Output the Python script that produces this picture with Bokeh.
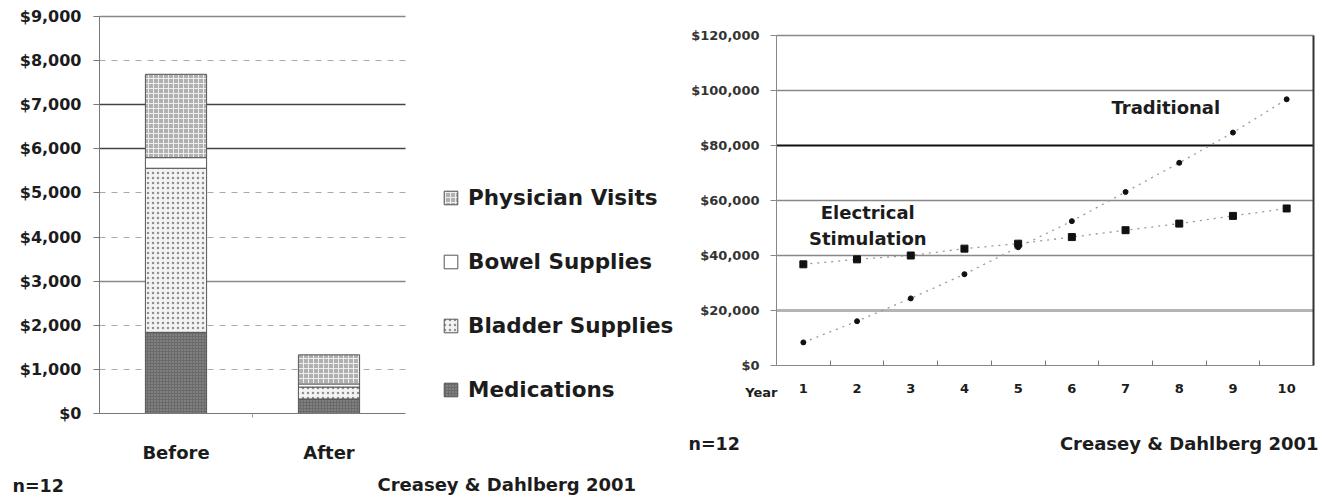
from bokeh.plotting import figure
from bokeh.models import (Range1d, NumeralTickFormatter, FixedTicker, Grid, LinearAxis,
                          Label, Legend, LegendItem, ColumnDataSource)
from bokeh.embed import file_html
from bokeh.resources import INLINE

FONT = "DejaVu Sans"
INK = "#1c1c1c"
W, H = 1323, 499

# ---------------- data: left chart (stacked costs) ----------------
groups = ["Before", "After"]
stack_names = ["Medications", "Bladder Supplies", "Bowel Supplies", "Physician Visits"]
medications = [1840, 330]
bladder_supplies = [3720, 270]
bowel_supplies = [240, 70]
physician_visits = [1890, 660]
left_ticks = list(range(0, 9001, 1000))

# ---------------- data: right chart (cumulative cost by year) ----------------
years = list(range(1, 11))
electrical = [36800, 38600, 40000, 42500, 44300, 46700, 49200, 51600, 54400, 57100]
traditional = [8400, 16100, 24400, 33200, 43000, 52500, 63100, 73700, 84700, 96800]
right_ticks = list(range(0, 120001, 20000))


def fit_range(px_lo, px_hi, v_lo, v_hi, total):
    """Range over the whole canvas such that v_lo..v_hi lands on px_lo..px_hi."""
    k = (v_hi - v_lo) / (px_hi - px_lo)
    return Range1d(v_lo - px_lo * k, v_hi + (total - px_hi) * k)


# one canvas-sized frame; each chart gets its own ranges and axes
p = figure(width=W, height=H, x_range=Range1d(0, W), y_range=Range1d(H, 0),
           x_axis_location=None, y_axis_location=None, min_border=0,
           output_backend="svg", toolbar_location=None)
p.title.visible = False
p.grid.visible = False
p.outline_line_color = None
p.background_fill_color = "white"
p.border_fill_color = "white"

p.extra_x_ranges = {"lx": fit_range(99, 405, 0, len(groups), W),
                    "rx": fit_range(776, 1313, 0.5, 10.5, W)}
p.extra_y_ranges = {"ly": fit_range(H - 413, H - 16, 0, 9000, H),
                    "ry": fit_range(H - 365, H - 35, 0, 120000, H)}


def style_labels(ax, size, color=INK):
    ax.major_label_text_font = FONT
    ax.major_label_text_font_style = "bold"
    ax.major_label_text_font_size = size
    ax.major_label_text_color = color


# ================= LEFT CHART =================
group_x = [i + 0.5 for i in range(len(groups))]
src = ColumnDataSource(dict(x=group_x, med=medications, bla=bladder_supplies,
                            bow=bowel_supplies, phy=physician_visits))

for ticks, color, width, dash in [([6000, 7000], "#444", 1.5, "solid"),
                                  ([3000, 9000], "#888", 1.3, "solid"),
                                  ([1000, 2000, 4000, 5000, 8000], "#aaa", 1, "6 6")]:
    p.add_layout(Grid(dimension=1, ticker=FixedTicker(ticks=ticks), x_range_name="lx",
                      y_range_name="ly", cross_bounds=(0, len(groups)),
                      grid_line_color=color, grid_line_width=width, grid_line_dash=dash))

rs = p.vbar_stack(["med", "bla", "bow", "phy"], x="x", width=0.4, source=src,
                  x_range_name="lx", y_range_name="ly",
                  fill_color=["#6a6a6a", "#f3f3f3", "#ffffff", "#b0b0b0"],
                  hatch_pattern=["dot", "dot", " ", "cross"],
                  hatch_color=["#a0a0a0", "#909090", "#ffffff", "#eeeeee"],
                  hatch_scale=[3, 5, 6, 5],
                  hatch_weight=[1, 0.8, 1, 1],
                  line_color="#555", line_width=1)

items = [LegendItem(label=name, renderers=[r]) for name, r in zip(stack_names, rs)]
items.reverse()
legend = Legend(items=items, location=(442, H - 402), orientation="vertical",
                label_text_font=FONT, label_text_font_style="bold", label_text_font_size="21.5px",
                label_text_color=INK, glyph_width=17, glyph_height=17, label_height=24,
                spacing=39, padding=0, margin=0, label_standoff=9,
                border_line_color=None, background_fill_alpha=0)
p.add_layout(legend)

ly_axis = LinearAxis(x_range_name="lx", y_range_name="ly", fixed_location=0,
                     bounds=(0, 9000), ticker=FixedTicker(ticks=left_ticks),
                     formatter=NumeralTickFormatter(format="$0,0"))
style_labels(ly_axis, "16px")
ly_axis.axis_line_color = "#777"
ly_axis.major_tick_line_color = "#777"
ly_axis.major_tick_out = 6
ly_axis.major_tick_in = 0
ly_axis.minor_tick_line_color = None
ly_axis.major_label_standoff = 12
p.add_layout(ly_axis, "left")

lx_axis = LinearAxis(x_range_name="lx", y_range_name="ly", fixed_location=0,
                     bounds=(0, len(groups)),
                     ticker=FixedTicker(ticks=group_x, minor_ticks=[1]),
                     major_label_overrides={gx: g for gx, g in zip(group_x, groups)})
style_labels(lx_axis, "18px")
lx_axis.axis_line_color = "#777"
lx_axis.major_tick_line_color = None
lx_axis.major_tick_out = 0
lx_axis.major_tick_in = 0
lx_axis.minor_tick_line_color = "#999"
lx_axis.minor_tick_out = 4
lx_axis.minor_tick_in = 0
lx_axis.major_label_standoff = 24
p.add_layout(lx_axis, "below")

# ================= RIGHT CHART =================
for ticks, color, width in [([40000, 60000, 100000, 120000], "#888", 1.3),
                            ([20000], "#b4b4b4", 3),
                            ([80000], "#111", 2)]:
    p.add_layout(Grid(dimension=1, ticker=FixedTicker(ticks=ticks), x_range_name="rx",
                      y_range_name="ry", cross_bounds=(0.5, 10.5),
                      grid_line_color=color, grid_line_width=width))

p.line(years, electrical, x_range_name="rx", y_range_name="ry",
       line_color="#9a9a9a", line_dash="2 5", line_width=1.3)
p.line(years, traditional, x_range_name="rx", y_range_name="ry",
       line_color="#9a9a9a", line_dash="2 5", line_width=1.3)
p.scatter(years, electrical, x_range_name="rx", y_range_name="ry",
          marker="square", size=7, color="#111")
p.scatter(years, traditional, x_range_name="rx", y_range_name="ry",
          marker="circle", size=5, color="#111")

ry_axis = LinearAxis(x_range_name="rx", y_range_name="ry", fixed_location=0.5,
                     bounds=(0, 120000), ticker=FixedTicker(ticks=right_ticks),
                     formatter=NumeralTickFormatter(format="$0,0"))
style_labels(ry_axis, "13px", "#333")
ry_axis.axis_line_color = "#888"
ry_axis.major_tick_line_color = "#888"
ry_axis.major_tick_out = 6
ry_axis.major_tick_in = 0
ry_axis.minor_tick_line_color = None
ry_axis.major_label_standoff = 11
p.add_layout(ry_axis, "left")

rr_axis = LinearAxis(x_range_name="rx", y_range_name="ry", fixed_location=10.5,
                     bounds=(0, 120000), ticker=FixedTicker(ticks=[]))
rr_axis.axis_line_color = "#333"
rr_axis.axis_line_width = 2
rr_axis.major_tick_line_color = None
rr_axis.minor_tick_line_color = None
rr_axis.major_label_text_font_size = "0px"
p.add_layout(rr_axis, "right")

rx_axis = LinearAxis(x_range_name="rx", y_range_name="ry", fixed_location=0,
                     bounds=(0.5, 10.5),
                     ticker=FixedTicker(ticks=years, minor_ticks=[y + 0.5 for y in years[:-1]]))
style_labels(rx_axis, "13px")
rx_axis.axis_line_color = "#888"
rx_axis.major_tick_line_color = None
rx_axis.major_tick_out = 0
rx_axis.major_tick_in = 0
rx_axis.minor_tick_line_color = "#777"
rx_axis.minor_tick_in = 5
rx_axis.minor_tick_out = 0
rx_axis.major_label_standoff = 18
p.add_layout(rx_axis, "below")


def lab(txt, x, y, size, align="center", xr="default", yr="default"):
    p.add_layout(Label(x=x, y=y, text=txt, text_align=align, text_baseline="middle",
                       x_range_name=xr, y_range_name=yr,
                       text_font=FONT, text_font_style="bold", text_font_size=size,
                       text_color=INK))


lab("Electrical", 2.2, 55600, "18px", xr="rx", yr="ry")
lab("Stimulation", 2.2, 46200, "18px", xr="rx", yr="ry")
lab("Traditional", 7.75, 93800, "18px", xr="rx", yr="ry")

# page-level captions (canvas pixel coordinates)
lab("Year", 777, 392, "13px", "right")
lab("n=12", 12, 485, "17.5px", "left")
lab("Creasey & Dahlberg 2001", 377, 484, "18px", "left")
lab("n=12", 688, 443, "17.5px", "left")
lab("Creasey & Dahlberg 2001", 1318, 443, "18px", "right")

open("out.html", "w").write(file_html(p, INLINE))
